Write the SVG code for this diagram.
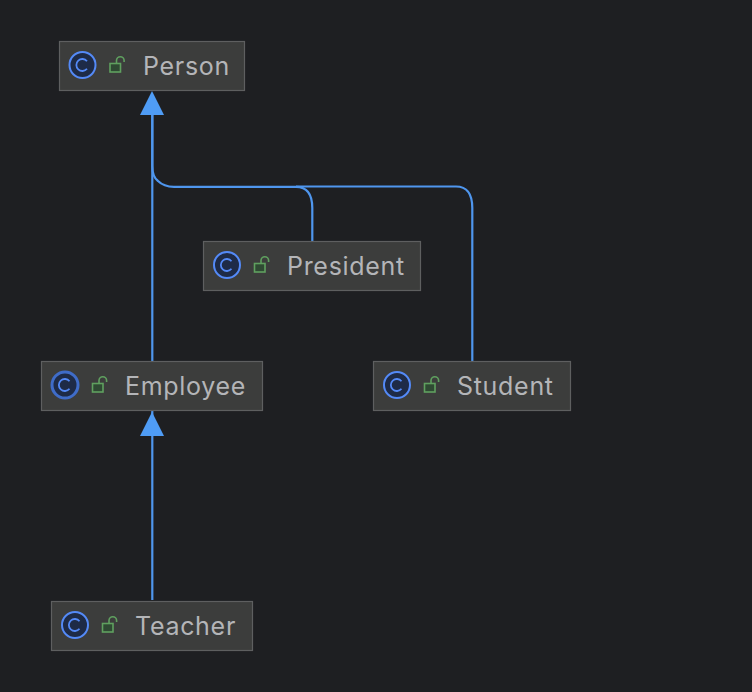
<svg xmlns="http://www.w3.org/2000/svg" width="752" height="692" viewBox="0 0 752 692">
<style>
.box{fill:#3c3d3c;stroke:#5e5f60;stroke-width:1.2}
.ci{fill:#1e2b47;stroke:#548af7;stroke-width:2}
.cis{fill:#1e2b47;stroke:#3f6cc8;stroke-width:3}
.cg{fill:none;stroke:#548af7;stroke-width:1.8}
.lb{fill:#2f4a33;stroke:#5fa05f;stroke-width:1.6}
.ls{fill:none;stroke:#5fa05f;stroke-width:1.6}
.t{font-family:"Inter","Liberation Sans",sans-serif;font-size:25px;fill:#b4b5b8;letter-spacing:.7px}
.c{fill:none;stroke:#4f96ee;stroke-width:2.2}
.a{fill:#4f9cf5}
</style>
<defs>
<g id="glyphs">
<path d="M4.500 -3.800A6 6 0 1 0 4.500 3.800" class="cg"/>
<rect x="27.500" y="-1.500" width="10.500" height="8.500" class="lb"/>
<path d="M34 -1.500V-4.500A3.800 3.800 0 0 1 41.600 -4.500V-3" class="ls"/>
</g>
</defs>
<rect width="752" height="692" fill="#1e1f22"/>
<g id="connectors">
<path class="c" d="M152.300 112V600"/>
<path class="c" d="M152.300 112V166C152.300 172 154 178 158 181C162 185 168 186.800 174 186.800H296C306 186.800 312.300 193 312.300 208V241"/>
<path class="c" d="M296 186.500H456C466 186.500 472.300 193 472.300 208V361"/>
<polygon class="a" points="152,91 164,115 140,115"/>
<polygon class="a" points="152,412 164,436 140,436"/>
</g>
<g id="person">
<rect class="box" x="59.500" y="41.500" width="185" height="49"/>
<circle class="ci" cx="82.500" cy="65" r="13"/>
<use href="#glyphs" x="82.500" y="65"/>
<text class="t" x="143" y="75">Person</text>
</g>
<g id="president">
<rect class="box" x="203.500" y="241.500" width="217" height="49"/>
<circle class="ci" cx="227" cy="265" r="13"/>
<use href="#glyphs" x="227" y="265"/>
<text class="t" x="287" y="275">President</text>
</g>
<g id="employee">
<rect class="box" x="41.500" y="361.500" width="221" height="49"/>
<circle class="cis" cx="65" cy="385" r="13"/>
<use href="#glyphs" x="65" y="385"/>
<text class="t" x="125" y="395">Employee</text>
</g>
<g id="student">
<rect class="box" x="373.500" y="361.500" width="197" height="49"/>
<circle class="ci" cx="397" cy="385" r="13"/>
<use href="#glyphs" x="397" y="385"/>
<text class="t" x="457" y="395">Student</text>
</g>
<g id="teacher">
<rect class="box" x="51.500" y="601.500" width="201" height="49"/>
<circle class="ci" cx="75" cy="625" r="13"/>
<use href="#glyphs" x="75" y="625"/>
<text class="t" x="135" y="635">Teacher</text>
</g>
</svg>
